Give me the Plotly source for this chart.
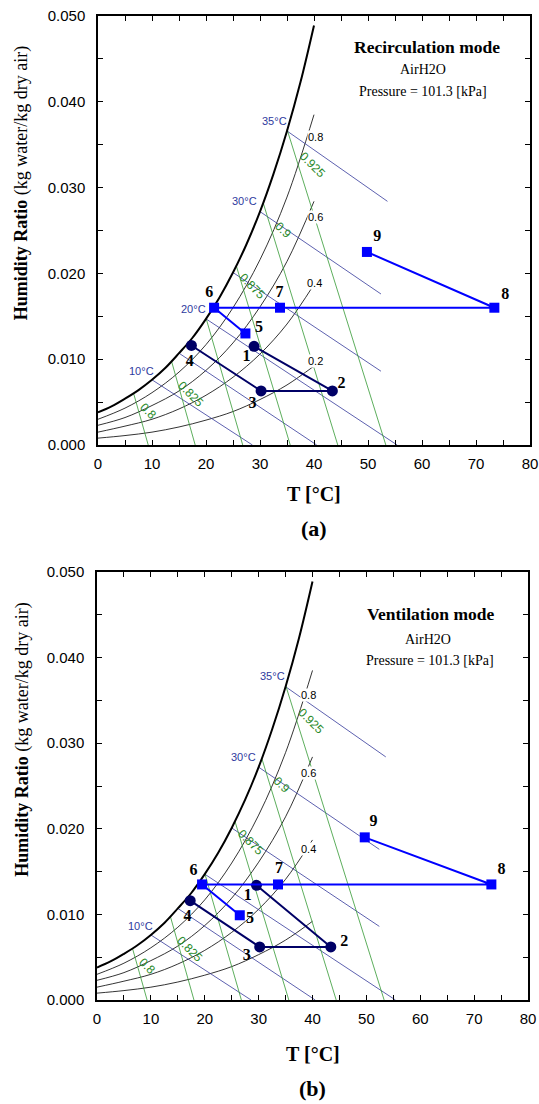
import plotly.graph_objects as go

W_PX, H_PX = 539, 1104

# ---------------- data ----------------
sat_T = [0, 2.5, 5, 7.5, 10, 12.5, 15, 17.5, 20, 22.5, 25, 27.5, 30, 32.5, 35, 37.5, 40]
sat_W = [0.0038, 0.0045, 0.0054, 0.0064, 0.0076, 0.0090, 0.0107, 0.0125, 0.0147,
         0.0172, 0.0201, 0.0234, 0.0272, 0.0316, 0.0366, 0.0423, 0.0489]

rh_T = [0, 5, 10, 15, 20, 25, 30, 35, 40]
rh_W = {
    "0.8": [0.0030, 0.0043, 0.0061, 0.0085, 0.0117, 0.0160, 0.0216, 0.0289, 0.0385],
    "0.6": [0.0023, 0.0032, 0.0046, 0.0063, 0.0087, 0.0119, 0.0161, 0.0214, 0.0284],
    "0.4": [0.0015, 0.0022, 0.0030, 0.0042, 0.0058, 0.0079, 0.0106, 0.0141, 0.0187],
    "0.2": [0.0008, 0.0011, 0.0015, 0.0021, 0.0029, 0.0039, 0.0053, 0.0070, 0.0092],
}

# wet-bulb lines: (T start, W start) on saturation -> (T end, W end)
wb_T0 = [10, 15, 20, 25, 30, 35]
wb_W0 = [0.0076, 0.0107, 0.0147, 0.0201, 0.0272, 0.0366]
wb_T1 = [28.6, 40.5, 55.4, 52.4, 52.4, 53.6]
wb_W1 = [0.0, 0.0, 0.0, 0.0086, 0.0176, 0.0284]
wb_label_a = ["10°C", "", "20°C", "", "30°C", "35°C"]
wb_label_b = ["10°C", "", "", "", "30°C", "35°C"]
wb_lab_T = [8.1, 0, 17.6, 0, 27.2, 32.6]
wb_lab_W = [0.0086, 0, 0.0159, 0, 0.0284, 0.0378]

# specific-volume lines
sv_T0 = [6.6, 13.6, 20.0, 25.6, 30.6, 35.0]
sv_W0 = [0.0060, 0.0098, 0.0148, 0.0209, 0.0282, 0.0368]
sv_T1 = [9.3, 18.0, 26.8, 35.6, 44.4, 53.3]
sv_W1 = [0.0, 0.0, 0.0, 0.0, 0.0, 0.0]
sv_label = ["0.8", "0.825", "", "0.875", "0.9", "0.925"]
sv_lab_T = [9.3, 17.2, 0, 28.5, 34.3, 39.7]
sv_lab_W = [0.0040, 0.0060, 0, 0.0185, 0.0251, 0.0326]

rh_lab = ["0.8", "0.6", "0.4", "0.2"]
rh_lab_T_a = [40.3, 40.2, 40.1, 40.2]
rh_lab_W_a = [0.0359, 0.0266, 0.0189, 0.0098]
rh_lab_T_b = [39.3, 39.3, 39.3]
rh_lab_W_b = [0.0356, 0.0265, 0.0176]

# states (a) recirculation
a_c_T = [28.9, 43.4, 30.2, 17.3]          # 1,2,3,4
a_c_W = [0.0115, 0.0063, 0.0063, 0.0116]
a_s_T = [27.3, 21.5, 33.7, 73.4, 49.8]    # 5,6,7,8,9
a_s_W = [0.0130, 0.0160, 0.0160, 0.0160, 0.0225]
a_lab = ["1", "2", "3", "4", "5", "6", "7", "8", "9"]
a_lab_T = [27.5, 45.1, 28.6, 17.0, 29.8, 20.6, 33.6, 75.4, 51.7]
a_lab_W = [0.0103, 0.0071, 0.0048, 0.0097, 0.0136, 0.0177, 0.0177, 0.0175, 0.0242]

# states (b) ventilation
b_c_T = [29.6, 43.4, 30.2, 17.3]
b_c_W = [0.0134, 0.0062, 0.0062, 0.0116]
b_s_T = [26.5, 19.5, 33.6, 73.2, 49.7]
b_s_W = [0.0099, 0.0135, 0.0135, 0.0135, 0.0190]
b_lab = ["1", "2", "3", "4", "5", "6", "7", "8", "9"]
b_lab_T = [28.0, 45.9, 27.8, 16.8, 28.4, 17.9, 33.8, 75.1, 51.3]
b_lab_W = [0.0122, 0.0068, 0.0051, 0.0097, 0.0095, 0.0151, 0.0153, 0.0152, 0.0208]

x_ticks = list(range(0, 85, 5))
x_text = [str(v) if v % 10 == 0 else "" for v in x_ticks]
y_ticks = [i * 0.005 for i in range(11)]
y_text = ["%.3f" % v if i % 2 == 0 else "" for i, v in enumerate(y_ticks)]

NAVY_LINE = "#33399a"
NAVY_TXT = "#2e3a9e"
GREEN = "#339933"
GREEN_TXT = "#2a8a2a"
DARK = "#000066"
BLUE = "#0000ff"
SERIF = "Liberation Serif"
SANS = "Liberation Sans"

fig = go.Figure()
annotations = []


def ann(**kw):
    d = dict(showarrow=False, xanchor="center", yanchor="middle")
    d.update(kw)
    annotations.append(d)


panels = [
    dict(xa="x", ya="y", title="Recirculation mode", c_T=a_c_T, c_W=a_c_W, s_T=a_s_T, s_W=a_s_W,
         lab=a_lab, lab_T=a_lab_T, lab_W=a_lab_W, rhl=rh_lab[:4], rhT=rh_lab_T_a, rhW=rh_lab_W_a,
         wbl=wb_label_a, txt_px=[(427, 46.7), (423, 70), (423, 91.7)]),
    dict(xa="x2", ya="y2", title="Ventilation mode", c_T=b_c_T, c_W=b_c_W, s_T=b_s_T, s_W=b_s_W,
         lab=b_lab, lab_T=b_lab_T, lab_W=b_lab_W, rhl=rh_lab[:3], rhT=rh_lab_T_b, rhW=rh_lab_W_b,
         wbl=wb_label_b, txt_px=[(430, 614), (428, 639), (430, 660)]),
]

for p in panels:
    xa, ya = p["xa"], p["ya"]
    for k, ws in rh_W.items():
        fig.add_trace(go.Scatter(x=rh_T, y=ws, mode="lines", xaxis=xa, yaxis=ya,
                                 line=dict(color="black", width=0.8, shape="spline"),
                                 hoverinfo="skip", showlegend=False))
    for i in range(len(wb_T0)):
        fig.add_trace(go.Scatter(x=[wb_T0[i], wb_T1[i]], y=[wb_W0[i], wb_W1[i]], mode="lines",
                                 xaxis=xa, yaxis=ya, line=dict(color=NAVY_LINE, width=0.8),
                                 hoverinfo="skip", showlegend=False))
    for i in range(len(sv_T0)):
        fig.add_trace(go.Scatter(x=[sv_T0[i], sv_T1[i]], y=[sv_W0[i], sv_W1[i]], mode="lines",
                                 xaxis=xa, yaxis=ya, line=dict(color=GREEN, width=0.8),
                                 hoverinfo="skip", showlegend=False))
    fig.add_trace(go.Scatter(x=sat_T, y=sat_W, mode="lines", xaxis=xa, yaxis=ya,
                             line=dict(color="black", width=2, shape="spline"),
                             hoverinfo="skip", showlegend=False))
    fig.add_trace(go.Scatter(x=p["c_T"], y=p["c_W"], mode="lines+markers", xaxis=xa, yaxis=ya,
                             line=dict(color=DARK, width=2),
                             marker=dict(symbol="circle", size=11, color=DARK),
                             showlegend=False))
    fig.add_trace(go.Scatter(x=p["s_T"], y=p["s_W"], mode="lines+markers", xaxis=xa, yaxis=ya,
                             line=dict(color=BLUE, width=2),
                             marker=dict(symbol="square", size=10, color=BLUE),
                             showlegend=False))
    fig.add_trace(go.Scatter(x=p["lab_T"], y=p["lab_W"], mode="text", text=p["lab"],
                             xaxis=xa, yaxis=ya, cliponaxis=False,
                             textfont=dict(family=SERIF, size=16, color="black", weight="bold"),
                             hoverinfo="skip", showlegend=False))
    for i, t in enumerate(p["wbl"]):
        if t:
            ann(x=wb_lab_T[i], y=wb_lab_W[i], xref=xa, yref=ya, text=t,
                font=dict(family=SANS, size=11, color=NAVY_TXT))
    for i, t in enumerate(sv_label):
        if t:
            ann(x=sv_lab_T[i], y=sv_lab_W[i], xref=xa, yref=ya, text=t, textangle=45,
                font=dict(family=SANS, size=12, color=GREEN_TXT))
    for i, t in enumerate(p["rhl"]):
        ann(x=p["rhT"][i], y=p["rhW"][i], xref=xa, yref=ya, text=t, bgcolor="white", borderpad=0,
            font=dict(family=SANS, size=11, color="black"))
    (x1, y1), (x2, y2), (x3, y3) = p["txt_px"]
    ann(x=x1 / W_PX, y=1 - y1 / H_PX, xref="paper", yref="paper",
        text="<b>%s</b>" % p["title"], font=dict(family=SERIF, size=17.5, color="black"))
    ann(x=x2 / W_PX, y=1 - y2 / H_PX, xref="paper", yref="paper",
        text="AirH2O", font=dict(family=SERIF, size=14, color="black"))
    ann(x=x3 / W_PX, y=1 - y3 / H_PX, xref="paper", yref="paper",
        text="Pressure = 101.3 [kPa]", font=dict(family=SERIF, size=14, color="black"))

for cx, ty, tag_y, ytit_y, tag in [(314, 493.5, 528, 183.5, "(a)"), (312.5, 1054, 1088, 740, "(b)")]:
    ann(x=cx / W_PX, y=1 - ty / H_PX, xref="paper", yref="paper",
        text="<b>T [°C]</b>", font=dict(family=SERIF, size=20, color="black"))
    ann(x=cx / W_PX, y=1 - tag_y / H_PX, xref="paper", yref="paper",
        text="<b>%s</b>" % tag, font=dict(family=SERIF, size=22, color="black"))
    ann(x=21.7 / W_PX, y=1 - ytit_y / H_PX, xref="paper", yref="paper",
        text="<b>Humidity Ratio</b> (kg water/kg dry air)", textangle=-90,
        font=dict(family=SERIF, size=18, color="black"))


def xaxis(dom, anchor):
    return dict(domain=dom, range=[0, 80], anchor=anchor, tickvals=x_ticks, ticktext=x_text,
                ticks="inside", ticklen=5, tickwidth=1, tickcolor="black", showline=True,
                linecolor="black", linewidth=1.5, mirror="ticks", showgrid=False, zeroline=False,
                automargin=False,
                tickfont=dict(family=SANS, size=15, color="black"), ticklabelstandoff=4)


def yaxis(dom, anchor):
    return dict(domain=dom, range=[0, 0.05], anchor=anchor, tickvals=y_ticks, ticktext=y_text,
                ticks="inside", ticklen=5, tickwidth=1, tickcolor="black", showline=True,
                linecolor="black", linewidth=1.5, mirror="ticks", showgrid=False, zeroline=False,
                automargin=False,
                tickfont=dict(family=SANS, size=15, color="black"), ticklabelstandoff=8)


fig.update_layout(
    width=W_PX, height=H_PX, autosize=False,
    margin=dict(l=0, r=0, t=0, b=0, pad=0, autoexpand=False),
    paper_bgcolor="white", plot_bgcolor="white", showlegend=False,
    xaxis=xaxis([98 / W_PX, 530 / W_PX], "y"),
    yaxis=yaxis([1 - 445 / H_PX, 1 - 16 / H_PX], "x"),
    xaxis2=xaxis([97 / W_PX, 528 / W_PX], "y2"),
    yaxis2=yaxis([1 - 1000 / H_PX, 1 - 572 / H_PX], "x2"),
    annotations=annotations,
)

fig.write_html("out.html", config={"displayModeBar": False, "responsive": False},
               default_width="539px", default_height="1104px",
               post_script="document.body.style.margin='0px';")
